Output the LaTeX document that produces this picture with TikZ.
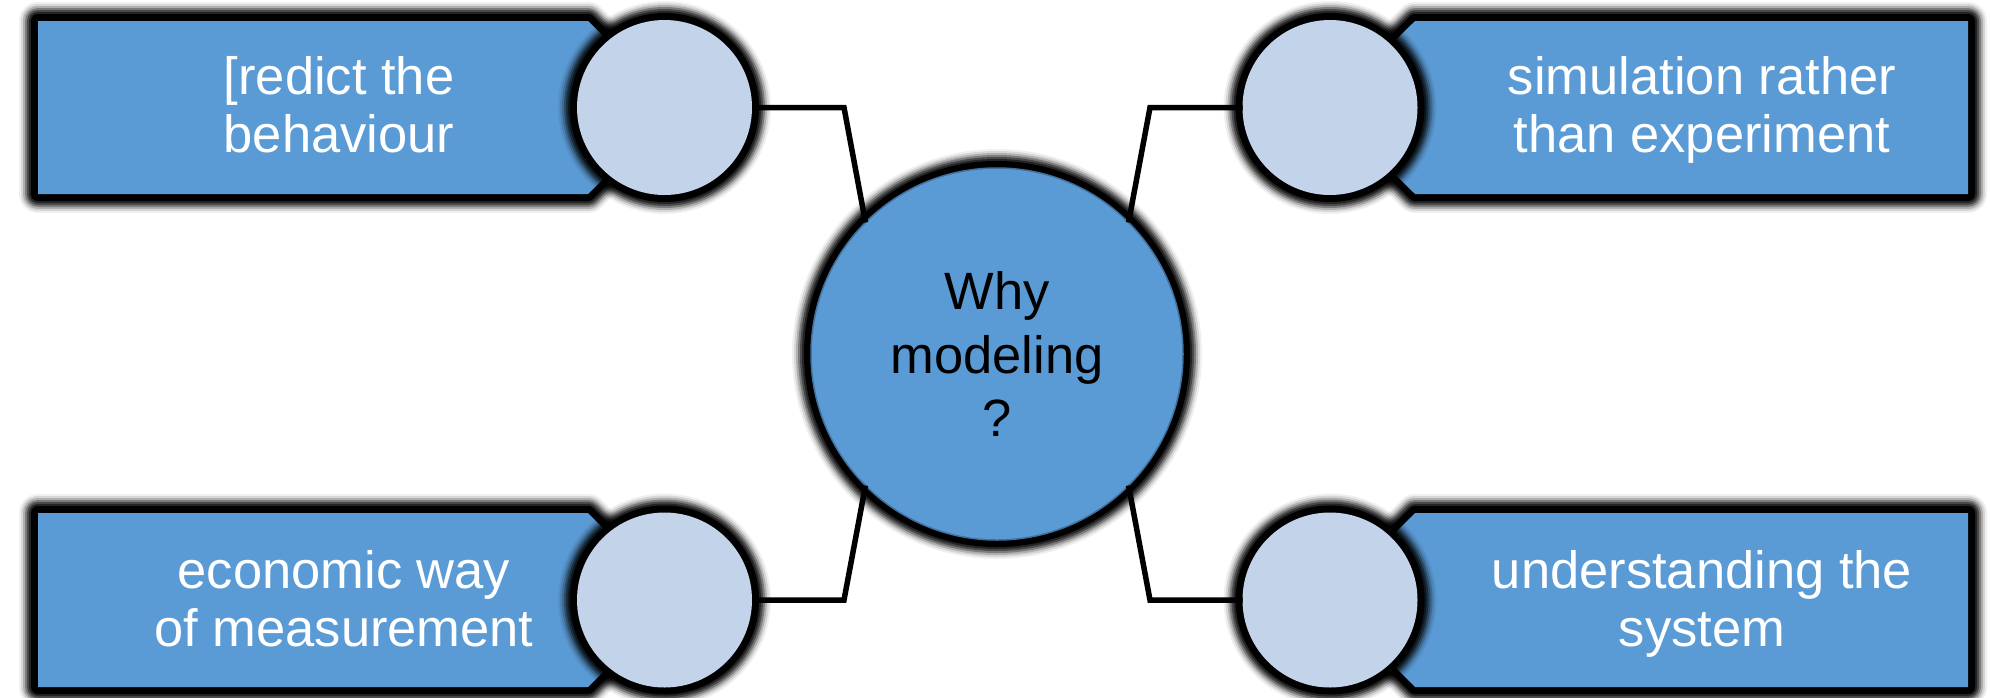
\documentclass[tikz,border=0pt]{standalone}
\usepackage{fontspec}
\setmainfont{Liberation Sans}
\definecolor{boxblue}{HTML}{5B9BD5}
\definecolor{knobblue}{HTML}{C2D3EA}
\definecolor{rimblue}{HTML}{41719C}
\tikzset{
  % soft black halo drawn beneath a shape: solid core, gradual fade outwards
  glow/.style={
    preaction={draw=black, draw opacity=0.06, line width=38pt, line join=round},
    preaction={draw=black, draw opacity=0.10, line width=34pt, line join=round},
    preaction={draw=black, draw opacity=0.18, line width=30pt, line join=round},
    preaction={draw=black, draw opacity=0.29, line width=26pt, line join=round},
    preaction={draw=black, draw opacity=0.40, line width=22pt, line join=round},
    preaction={draw=black, draw opacity=0.50, line width=18pt, line join=round},
    preaction={draw=black, line width=14pt, line join=round}},
  tabshape/.style={glow, fill=boxblue},
  knob/.style={circle, glow, fill=knobblue, minimum size=175pt,
    inner sep=0pt, outer sep=0pt},
  hubshape/.style={circle, glow, fill=boxblue, draw=rimblue, line width=1.5pt,
    minimum size=372pt, inner sep=0pt, outer sep=0pt, align=center,
    font=\fontsize{52.5}{63.5}\selectfont},
  tabtext/.style={text=white, align=center, inner sep=0pt,
    font=\fontsize{52.5}{58}\selectfont},
  link/.style={draw=black, line width=5.5pt, line join=miter}
}
\begin{document}
\begin{tikzpicture}[x=1pt, y=-1pt]
  \fill[white] (0,0) rectangle (1990,697);
  \useasboundingbox (0,0) rectangle (1990,697);

  % pointed tabs
  \path[tabshape] (38,21) -- (588,21) -- (675,107.5) -- (588,194) -- (38,194) -- cycle;
  \path[tabshape] (1968,21) -- (1415,21) -- (1328,107.5) -- (1415,194) -- (1968,194) -- cycle;
  \path[tabshape] (38,513) -- (588,513) -- (675,600) -- (588,687) -- (38,687) -- cycle;
  \path[tabshape] (1968,513) -- (1415,513) -- (1328,600) -- (1415,687) -- (1968,687) -- cycle;

  % tab captions
  \node[tabtext] (t1) at (339,111.5) {\strut[redict the\\\strut behaviour};
  \node[tabtext] (t2) at (1702,111.5) {\strut simulation rather\\\strut than experiment};
  \node[tabtext] (t3) at (344,605.5) {\strut economic way\\\strut of measurement};
  \node[tabtext] (t4) at (1702,605.5) {\strut understanding the\\\strut system};

  % round knobs at the tab tips
  \node[knob] (c1) at (664.5,107.5) {};
  \node[knob] (c2) at (1330,107.5) {};
  \node[knob] (c3) at (664.5,600) {};
  \node[knob] (c4) at (1330,600) {};

  % central circle
  \node[hubshape] (hub) at (997,354) {Why\\modeling\\?};

  % elbow connectors
  \coordinate (b1) at (844,107.5);
  \coordinate (b2) at (1150,107.5);
  \coordinate (b3) at (844,600);
  \coordinate (b4) at (1150,600);
  \draw[link] (c1.east) -- (b1) -- (hub.135);
  \draw[link] (c2.west) -- (b2) -- (hub.45);
  \draw[link] (c3.east) -- (b3) -- (hub.225);
  \draw[link] (c4.west) -- (b4) -- (hub.315);
\end{tikzpicture}
\end{document}
